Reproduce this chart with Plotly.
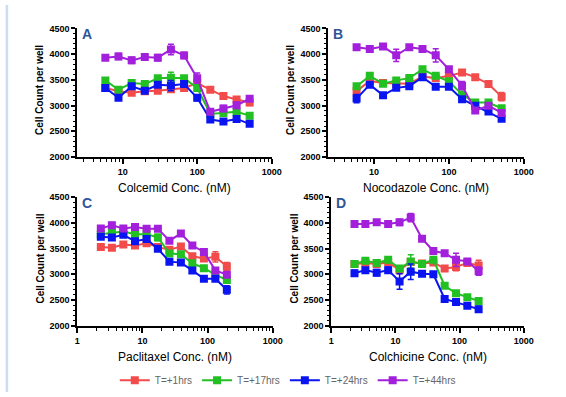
import plotly.graph_objects as go

# ---------------- data ----------------
series_names = ["T=+1hrs", "T=+17hrs", "T=+24hrs", "T=+44hrs"]
series_colors = ["#F24B4B", "#22C022", "#0A14F0", "#A21FDB"]

panel_letters = ["A", "B", "C", "D"]
panel_xtitles = ["Colcemid Conc. (nM)", "Nocodazole Conc. (nM)",
                 "Paclitaxel Conc. (nM)", "Colchicine Conc. (nM)"]

conc_AB = [5.85, 8.78, 13.2, 19.8, 29.6, 44.4, 66.7, 100, 150, 225, 338, 506]
conc_CD = [2.3, 3.4, 5.1, 7.7, 11.6, 17.3, 26, 39, 58.5, 88, 132, 198]

A_red = [3342, 3280, 3250, 3280, 3290, 3320, 3340, 3437, 3310, 3185, 3120, 3060]
A_green = [3488, 3310, 3437, 3418, 3532, 3540, 3532, 3342, 2836, 2855, 2881, 2805]
A_blue = [3342, 3152, 3374, 3291, 3405, 3390, 3420, 3152, 2729, 2691, 2741, 2646]
A_purple = [3931, 3955, 3879, 3944, 3931, 4090, 3975, 3532, 2881, 2944, 3006, 3133]

B_red = [3282, 3480, 3439, 3426, 3426, 3566, 3534, 3578, 3642, 3553, 3420, 3174]
B_green = [3377, 3578, 3426, 3490, 3534, 3705, 3578, 3472, 3218, 3061, 3061, 2947]
B_blue = [3136, 3407, 3199, 3345, 3377, 3553, 3364, 3364, 3123, 2998, 2884, 2744]
B_purple = [4135, 4102, 4146, 3976, 4135, 4102, 3976, 3705, 3388, 2903, 2998, 2858]

C_red = [3527, 3514, 3576, 3557, 3603, 3527, 3477, 3539, 3350, 3307, 3339, 3150]
C_green = [3778, 3810, 3829, 3778, 3778, 3716, 3401, 3388, 3213, 3118, 2992, 2886]
C_blue = [3727, 3716, 3765, 3640, 3684, 3495, 3245, 3226, 3075, 2911, 2911, 2698]
C_purple = [3891, 3953, 3891, 3916, 3886, 3886, 3652, 3791, 3558, 3433, 3075, 2992]

D_red = [3200, 3220, 3200, 3230, 3080, 3240, 3210, 3230, 3110, 3140, 3220, 3170]
D_green = [3199, 3261, 3218, 3280, 3110, 3250, 3199, 3280, 2776, 2631, 2555, 2479]
D_blue = [3020, 3080, 3030, 3080, 2860, 3050, 3010, 3000, 2520, 2460, 2390, 2320]
D_purple = [3975, 3975, 4008, 3975, 4008, 4102, 3691, 3451, 3407, 3280, 3250, 3061]

# standard errors
A_red_err = [40, 40, 40, 40, 40, 50, 40, 40, 40, 50, 40, 60]
A_green_err = [40, 40, 40, 40, 50, 110, 50, 40, 40, 40, 40, 50]
A_blue_err = [40, 40, 40, 40, 50, 100, 50, 60, 40, 50, 40, 40]
A_purple_err = [40, 60, 60, 40, 60, 100, 60, 100, 40, 60, 60, 50]

B_red_err = [40, 40, 40, 40, 40, 40, 40, 40, 40, 40, 40, 80]
B_green_err = [40, 40, 40, 40, 40, 50, 50, 40, 40, 40, 40, 40]
B_blue_err = [80, 40, 50, 40, 40, 40, 40, 40, 40, 40, 40, 40]
B_purple_err = [40, 40, 40, 120, 40, 40, 130, 40, 80, 40, 40, 40]

C_red_err = [40, 40, 40, 40, 40, 40, 40, 50, 40, 40, 100, 80]
C_green_err = [40, 40, 40, 40, 40, 60, 50, 40, 40, 40, 40, 60]
C_blue_err = [40, 40, 40, 40, 40, 40, 40, 40, 40, 40, 40, 80]
C_purple_err = [40, 50, 40, 40, 40, 40, 40, 40, 40, 40, 40, 40]

D_red_err = [40, 40, 40, 40, 40, 40, 40, 40, 50, 70, 40, 100]
D_green_err = [40, 40, 40, 50, 40, 130, 40, 40, 40, 50, 40, 40]
D_blue_err = [60, 40, 60, 60, 150, 150, 40, 40, 40, 40, 50, 60]
D_purple_err = [40, 40, 40, 60, 60, 80, 40, 50, 40, 130, 40, 80]

y_ticks = [2000, 2500, 3000, 3500, 4000, 4500]
x_tickvals = [1, 10, 100, 1000]
x_ticktext = ["1", "10", "100", "1000"]
x_minor = [2, 3, 4, 5, 6, 7, 8, 9, 20, 30, 40, 50, 60, 70, 80, 90,
           200, 300, 400, 500, 600, 700, 800, 900]

panels_y = [[A_red, A_green, A_blue, A_purple], [B_red, B_green, B_blue, B_purple],
            [C_red, C_green, C_blue, C_purple], [D_red, D_green, D_blue, D_purple]]
panels_err = [[A_red_err, A_green_err, A_blue_err, A_purple_err],
              [B_red_err, B_green_err, B_blue_err, B_purple_err],
              [C_red_err, C_green_err, C_blue_err, C_purple_err],
              [D_red_err, D_green_err, D_blue_err, D_purple_err]]
panels_x = [conc_AB, conc_AB, conc_CD, conc_CD]

# ---------------- layout geometry (pixels) ----------------
W, H = 566, 397
boxes = [  # x0, x1, ytop, ybottom
    (76, 275, 24, 156),
    (333, 533, 24, 156),
    (76, 276, 197, 329),
    (336, 533, 197, 329),
]
x_ranges = [[0.39, 3], [0.39, 3], [0, 3], [0, 3]]

FONT = "Liberation Sans, Arial, sans-serif"
fig = go.Figure()
layout = dict(
    width=W, height=H,
    margin=dict(l=0, r=0, t=0, b=0),
    paper_bgcolor="white", plot_bgcolor="white",
    font=dict(family=FONT, color="black"),
    showlegend=True,
    legend=dict(orientation="h", x=0.515, xanchor="center", y=1 - 385 / H,
                yanchor="middle", font=dict(size=10, color="#666666"),
                itemwidth=30, tracegroupgap=0, bgcolor="rgba(0,0,0,0)"),
)

annotations = []
for p in range(4):
    x0, x1, yt, yb = boxes[p]
    sx = "" if p == 0 else str(p + 1)
    xa = "xaxis" + sx
    ya = "yaxis" + sx
    layout[xa] = dict(
        domain=[x0 / W, x1 / W], anchor="y" + sx, type="log", range=x_ranges[p],
        tickmode="array", tickvals=x_tickvals, ticktext=x_ticktext,
        ticks="outside", ticklen=5, tickwidth=1.5, tickcolor="black",
        showline=True, linecolor="black", linewidth=2, showgrid=False, zeroline=False,
        tickfont=dict(size=9, family=FONT, color="black", weight="bold"),
        minor=dict(tickmode="array", tickvals=x_minor, ticks="outside", ticklen=3,
                   tickwidth=1, tickcolor="black", showgrid=False),
    )
    layout[ya] = dict(
        domain=[1 - yb / H, 1 - yt / H], anchor="x" + sx, range=[2000, 4500],
        tickmode="array", tickvals=y_ticks,
        ticks="outside", ticklen=4, tickwidth=1.5, tickcolor="black",
        showline=True, linecolor="black", linewidth=2, showgrid=False, zeroline=False,
        tickfont=dict(size=9, family=FONT, color="black", weight="bold"),
        minor=dict(dtick=100, ticks="outside", ticklen=2.5, tickwidth=1,
                   tickcolor="black", showgrid=False),
    )
    for s in range(4):
        fig.add_trace(go.Scatter(
            x=panels_x[p], y=panels_y[p][s],
            error_y=dict(type="data", array=panels_err[p][s], visible=True,
                         color=series_colors[s], thickness=1.5, width=3),
            mode="lines+markers", name=series_names[s], legendgroup=series_names[s],
            showlegend=(p == 0),
            line=dict(color=series_colors[s], width=2),
            marker=dict(symbol="square", size=8, color=series_colors[s]),
            xaxis="x" + sx, yaxis="y" + sx,
        ))
    # panel letter
    annotations.append(dict(
        x=(x0 + 10) / W, y=1 - (yt + 6) / H, xref="paper", yref="paper",
        text="<b>" + panel_letters[p] + "</b>", showarrow=False,
        xanchor="center", yanchor="middle",
        font=dict(size=14, color="#2F5597", family=FONT)))
    # x title
    annotations.append(dict(
        x=(x0 + x1) / 2 / W, y=1 - (yb + 32) / H, xref="paper", yref="paper",
        text=panel_xtitles[p], showarrow=False, xanchor="center", yanchor="middle",
        font=dict(size=12, color="black", family=FONT)))
    # y title
    annotations.append(dict(
        x=(x0 - 38) / W, y=1 - ((yt + yb) / 2 - 3) / H, xref="paper", yref="paper",
        text="<b>Cell Count per well</b>", showarrow=False, textangle=-90,
        xanchor="center", yanchor="middle",
        font=dict(size=10, color="black", family=FONT)))

layout["annotations"] = annotations
layout["shapes"] = [dict(type="line", xref="paper", yref="paper",
                         x0=4 / W, x1=4 / W, y0=0, y1=1,
                         line=dict(color="#C9DEF0", width=2.5))]
fig.update_layout(**layout)
fig.write_html("out.html", config={"displayModeBar": False},
               post_script="document.body.style.margin='0';document.body.style.overflow='hidden';")
